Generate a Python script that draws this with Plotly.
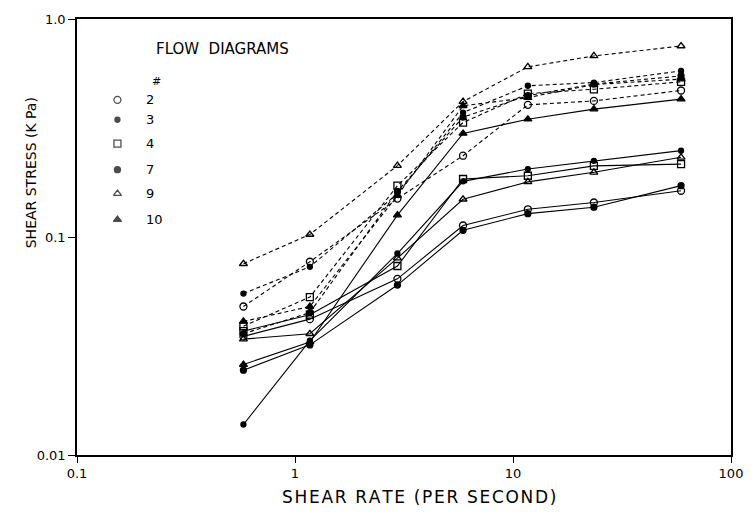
import plotly.graph_objects as go

# Shear rates (per second)
shear_rate = [0.58, 1.17, 2.95, 5.9, 11.7, 23.5, 59.0]

samples = ["2", "3", "4", "7", "9", "10"]

# Dashed curves (upper group)
dashed = {
    "2":  [0.048, 0.077, 0.150, 0.236, 0.404, 0.421, 0.470],
    "3":  [0.055, 0.073, 0.158, 0.372, 0.494, 0.511, 0.578],
    "4":  [0.039, 0.053, 0.172, 0.335, 0.455, 0.476, 0.515],
    "7":  [0.036, 0.045, 0.162, 0.355, 0.445, 0.503, 0.548],
    "9":  [0.0754, 0.1027, 0.2125, 0.418, 0.603, 0.677, 0.752],
    "10": [0.041, 0.048, 0.155, 0.400, 0.436, 0.500, 0.530],
}

# Solid curves (lower group)
solid = {
    "2":  [0.035, 0.042, 0.0643, 0.1129, 0.134, 0.144, 0.163],
    "3":  [0.0138, 0.0335, 0.084, 0.180, 0.205, 0.2235, 0.249],
    "4":  [0.037, 0.044, 0.0736, 0.1845, 0.191, 0.212, 0.216],
    "7":  [0.0245, 0.032, 0.0602, 0.1073, 0.128, 0.137, 0.172],
    "9":  [0.034, 0.036, 0.080, 0.149, 0.179, 0.198, 0.232],
    "10": [0.026, 0.033, 0.126, 0.2985, 0.347, 0.386, 0.429],
}

x_tick_vals = [0.1, 1, 10, 100]
x_tick_text = ["0.1", "1", "10", "100"]
y_tick_vals = [0.01, 0.1, 1.0]
y_tick_text = ["0.01", "0.1", "1.0"]

symbols = {
    "2": ("circle-open", 7),
    "3": ("circle", 5),
    "4": ("square-open", 7),
    "7": ("circle", 6),
    "9": ("triangle-up-open", 7),
    "10": ("triangle-up", 7),
}

FONT = "DejaVu Sans"
HAIR = "\u200a"


def spaced(t):
    return HAIR.join(list(t))


fig = go.Figure()

for s in samples:
    sym, sz = symbols[s]
    fig.add_trace(go.Scatter(
        x=shear_rate, y=dashed[s], mode="lines+markers",
        line=dict(color="black", width=1.1, dash="4px,3px"),
        marker=dict(symbol=sym, size=sz, color="black",
                    line=dict(color="black", width=1.3)),
        showlegend=False, name=s + " dashed"))
    fig.add_trace(go.Scatter(
        x=shear_rate, y=solid[s], mode="lines+markers",
        line=dict(color="black", width=1.1),
        marker=dict(symbol=sym, size=sz, color="black",
                    line=dict(color="black", width=1.3)),
        showlegend=False, name=s + " solid"))

# Custom legend (markers only) on an overlay pixel-like axis
leg_y = [99, 119, 143, 169, 193, 219]
fig.add_trace(go.Scatter(
    x=[118] * len(samples), y=leg_y, mode="markers",
    xaxis="x2", yaxis="y2",
    marker=dict(symbol=[symbols[s][0] for s in samples],
                size=[symbols[s][1] for s in samples], color="black",
                line=dict(color="black", width=1.3)),
    showlegend=False, hoverinfo="skip"))

annotations = [
    dict(x=155, y=48, xref="x2", yref="y2", text="FLOW  DIAGRAMS",
         showarrow=False, xanchor="left", yanchor="middle",
         font=dict(family=FONT, size=15, color="black")),
    dict(x=151, y=81, xref="x2", yref="y2", text="#",
         showarrow=False, xanchor="left", yanchor="middle",
         font=dict(family=FONT, size=11, color="black")),
]
for s, yy in zip(samples, leg_y):
    annotations.append(dict(x=145, y=yy, xref="x2", yref="y2", text=s,
                            showarrow=False, xanchor="left", yanchor="middle",
                            font=dict(family=FONT, size=13, color="black")))
annotations.append(dict(x=(30 - 77) / 663, y=(455 - 172) / 437,
                        xref="paper", yref="paper",
                        text="SHEAR STRESS (K Pa)", showarrow=False, textangle=-90,
                        xanchor="center", yanchor="middle",
                        font=dict(family=FONT, size=14, color="black")))
annotations.append(dict(x=(424 - 77) / 663, y=(455 - 497) / 437,
                        xref="paper", yref="paper",
                        text=spaced("SHEAR RATE (PER SECOND)"), showarrow=False,
                        xanchor="center", yanchor="middle",
                        font=dict(family=FONT, size=17, color="black")))

fig.update_layout(
    width=755, height=513,
    margin=dict(l=77, r=15, t=18, b=58),
    paper_bgcolor="white", plot_bgcolor="white",
    font=dict(family=FONT, size=13, color="black"),
    xaxis=dict(type="log", range=[-1, 2], tickvals=x_tick_vals, ticktext=x_tick_text,
               ticks="outside", ticklen=6, tickwidth=1.2, tickcolor="black",
               showline=True, linecolor="black", linewidth=1.5, mirror=True,
               showgrid=False, zeroline=False,
               tickfont=dict(family=FONT, size=13)),
    yaxis=dict(type="log", range=[-2, 0], tickvals=y_tick_vals, ticktext=y_tick_text,
               ticks="outside", ticklen=7, tickwidth=1.2, tickcolor="black",
               showline=True, linecolor="black", linewidth=1.5, mirror=True,
               showgrid=False, zeroline=False,
               tickfont=dict(family=FONT, size=13)),
    xaxis2=dict(range=[77, 740], overlaying="x", visible=False, fixedrange=True,
                anchor="y2"),
    yaxis2=dict(range=[455, 18], overlaying="y", visible=False, fixedrange=True,
                anchor="x2"),
    annotations=annotations,
)

fig.write_html("out.html")
